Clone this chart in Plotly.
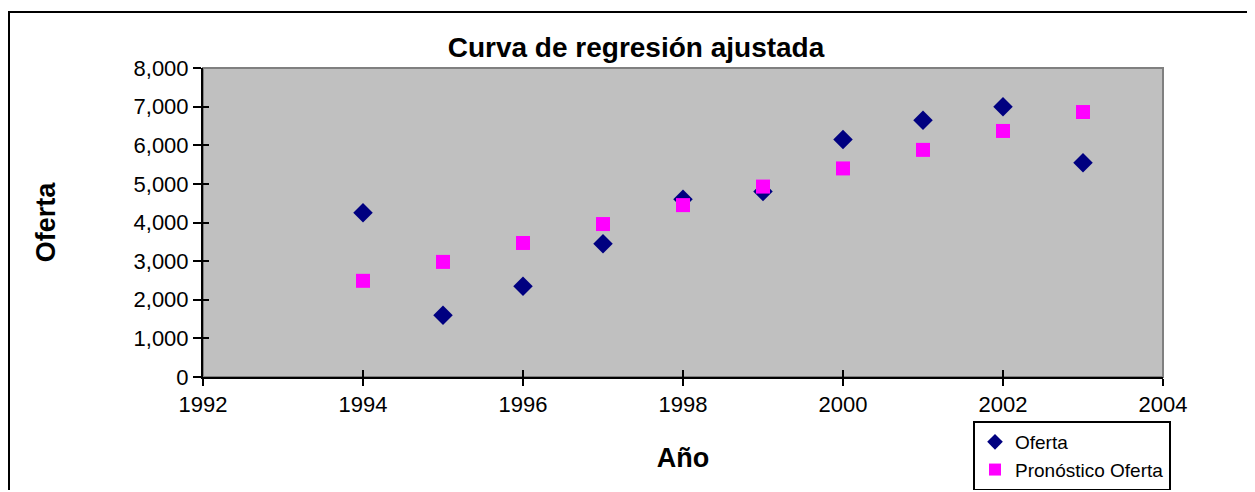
import plotly.graph_objects as go

years = [1994, 1995, 1996, 1997, 1998, 1999, 2000, 2001, 2002, 2003]
oferta = [4250, 1600, 2350, 3450, 4600, 4800, 6150, 6650, 7000, 5550]
pronostico = [2490, 2980, 3470, 3960, 4450, 4930, 5400, 5880, 6370, 6860]
x_ticks = [1992, 1994, 1996, 1998, 2000, 2002, 2004]
y_ticks = [0, 1000, 2000, 3000, 4000, 5000, 6000, 7000, 8000]

OFF = 8  # page body margin of the browser
W, H = 1245, 482
# reference pixel positions (page coordinates)
PL, PR, PT, PB = 203, 1163, 68, 377
L = PL - OFF
T = PT - OFF
R = W - (PR - OFF)
B = H - (PB - OFF)
pw, ph = W - L - R, H - T - B


def px_x(p):
    return (p - OFF - L) / pw


def px_y(p):
    return (H - B - (p - OFF)) / ph


fig = go.Figure()
fig.add_trace(go.Scatter(
    x=years, y=oferta, mode="markers", name="Oferta",
    marker=dict(symbol="diamond", size=15, color="#000080"),
))
fig.add_trace(go.Scatter(
    x=years, y=pronostico, mode="markers", name="Pronóstico Oferta",
    marker=dict(symbol="square", size=14, color="#FF00FF"),
))

font_family = "Liberation Sans, Arial, sans-serif"

fig.update_layout(
    width=W, height=H,
    margin=dict(l=L, r=R, t=T, b=B, autoexpand=False),
    paper_bgcolor="white",
    plot_bgcolor="#C0C0C0",
    font=dict(family=font_family, color="black", size=22),
    title=dict(
        text="<b>Curva de regresión ajustada</b>",
        x=(636 - OFF) / W, xref="container", xanchor="center",
        y=1 - (47 - OFF) / H, yref="container", yanchor="middle",
        font=dict(size=28, family=font_family, color="black"),
    ),
    showlegend=True,
    legend=dict(
        x=px_x(973), y=px_y(421), xanchor="left", yanchor="top",
        bordercolor="black", borderwidth=2, bgcolor="white",
        font=dict(size=19, family=font_family, color="black"),
        tracegroupgap=0, itemsizing="constant", itemwidth=30,
    ),
    xaxis=dict(
        range=[1992, 2004], tickvals=x_ticks, ticktext=[str(v) for v in x_ticks],
        showgrid=False, zeroline=False,
        showline=True, linecolor="black", linewidth=2,
        ticks="outside", ticklen=7, tickwidth=2, tickcolor="black",
        title=dict(text="<b>Año</b>", font=dict(size=27, family=font_family), standoff=32),
        automargin=False,
    ),
    yaxis=dict(
        range=[0, 8000], tickvals=y_ticks, tickformat=",d",
        showgrid=False, zeroline=False,
        showline=True, linecolor="black", linewidth=2,
        ticks="outside", ticklen=8, tickwidth=2, tickcolor="black",
        title=dict(text="<b>Oferta</b>", font=dict(size=27, family=font_family), standoff=70),
        automargin=False,
    ),
    xaxis2=dict(
        overlaying="x", matches="x", range=[1992, 2004], tickvals=x_ticks,
        showticklabels=False, showgrid=False, zeroline=False, showline=False,
        ticks="inside", ticklen=7, tickwidth=2, tickcolor="black", side="bottom",
    ),
    yaxis2=dict(
        overlaying="y", matches="y", range=[0, 8000], tickvals=y_ticks,
        showticklabels=False, showgrid=False, zeroline=False, showline=False,
        ticks="inside", ticklen=6, tickwidth=2, tickcolor="black", side="left",
    ),
)

# invisible helper trace so the secondary tick axes are drawn
fig.add_trace(go.Scatter(x=[1992], y=[0], xaxis="x2", yaxis="y2", mode="markers",
                         marker=dict(opacity=0), showlegend=False, hoverinfo="skip"))

# plot-area border (gray, top/right) and chart outer border
fig.add_shape(type="rect", xref="paper", yref="paper", x0=0, x1=1, y0=0, y1=1,
              line=dict(color="#808080", width=2), layer="below")
fig.add_shape(type="rect", xref="paper", yref="paper",
              x0=px_x(9), x1=px_x(1253), y0=px_y(505), y1=px_y(12),
              line=dict(color="black", width=2), fillcolor="rgba(0,0,0,0)")

fig.write_html("out.html")
